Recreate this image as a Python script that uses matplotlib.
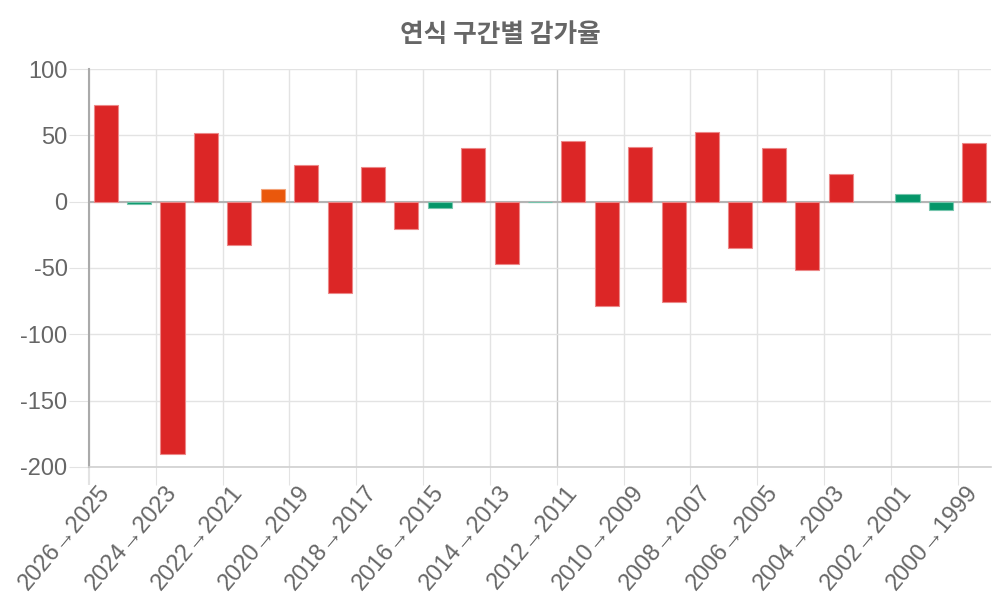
import numpy as np
import matplotlib
matplotlib.use("Agg")
import matplotlib.pyplot as plt
from matplotlib.colors import to_rgb

plt.rcParams['font.family'] = ['Liberation Sans', 'Noto Sans CJK KR', 'DejaVu Sans']
plt.rcParams['axes.unicode_minus'] = False

title = "연식 구간별 감가율"

categories = [
    "2026→2025", "2025→2024", "2024→2023", "2023→2022", "2022→2021", "2021→2020",
    "2020→2019", "2019→2018", "2018→2017", "2017→2016", "2016→2015", "2015→2014",
    "2014→2013", "2013→2012", "2012→2011", "2011→2010", "2010→2009", "2009→2008",
    "2008→2007", "2007→2006", "2006→2005", "2005→2004", "2004→2003", "2003→2002",
    "2002→2001", "2001→2000", "2000→1999",
]

values = [
    72.8, -1.8, -190.5, 51.7, -32.8, 9.9, 28.0, -68.5, 26.3, -20.8, -4.4, 40.8,
    -46.7, -0.5, 45.9, -78.6, 41.4, -75.4, 52.2, -34.9, 40.6, -51.2, 20.8, 0.0,
    5.7, -6.0, 44.2,
]

bar_class = [
    "red", "green", "red", "red", "red", "orange", "red", "red", "red", "red",
    "green", "red", "red", "green", "red", "red", "red", "red", "red", "red",
    "red", "red", "red", "green", "green", "green", "red",
]

palette = {"red": "#dc2626", "green": "#059669", "orange": "#ea580c"}

yticks = [-200, -150, -100, -50, 0, 50, 100]
ytick_labels = ["-200", "-150", "-100", "-50", "0", "50", "100"]


def lighten(c, f):
    r, g, b = to_rgb(c)
    return (r + (1 - r) * f, g + (1 - g) * f, b + (1 - b) * f)


fills = [palette[c] for c in bar_class]
edges = [lighten(palette[c], 0.45) for c in bar_class]
edge_w = [0.0 if v == 0 else 0.8 for v in values]

fig = plt.figure(figsize=(10, 6), dpi=100)
ax = fig.add_axes([0.089, 1 - 467 / 600, (991 - 89) / 1000, (467 - 69) / 600])

x = np.arange(len(categories))
ax.bar(x, values, width=0.72, color=fills, edgecolor=edges, linewidth=edge_w, zorder=3)

ax.set_xlim(-0.5, len(categories) - 0.5)
ax.set_ylim(-200, 100)

grid_c = "#e3e3e3"
# y axis
ax.set_yticks(yticks)
ax.set_yticklabels(ytick_labels)
ax.tick_params(axis='y', length=14.4, width=0.8, color=grid_c, pad=1,
               labelsize=17, labelcolor='#666666')
ax.yaxis.grid(True, color=grid_c, lw=1.0, zorder=0)

# x axis
ax.set_xticks(x[::2])
ax.set_xticklabels(categories[::2])
ax.set_xticks(np.arange(-0.5, len(categories) - 1, 2), minor=True)
ax.tick_params(axis='x', which='major', length=0, pad=15.5, labelsize=17,
               labelcolor='#666666')
ax.tick_params(axis='x', which='minor', length=13, width=0.8, color=grid_c)
ax.xaxis.grid(True, which='minor', color=grid_c, lw=1.0, zorder=0)
ax.xaxis.grid(False, which='major')
for lbl in ax.get_xticklabels():
    lbl.set_rotation(50)
    lbl.set_ha('right')
    lbl.set_va('center')
    lbl.set_rotation_mode('anchor')

ax.axhline(0, color='#b4b4b4', lw=1.5, zorder=2)

for s in ['top', 'right']:
    ax.spines[s].set_visible(False)
ax.spines['left'].set_color('#aaaaaa')
ax.spines['left'].set_linewidth(1.5)
ax.spines['bottom'].set_color('#d0d0d0')
ax.spines['bottom'].set_linewidth(1.2)

minor = ax.xaxis.get_minor_ticks()
minor[0].tick1line.set_color('#aaaaaa')
minor[0].tick1line.set_markeredgewidth(1.5)
minor[7].tick1line.set_color('#c6c6c6')
minor[7].gridline.set_color('#c6c6c6')
ymaj = ax.yaxis.get_major_ticks()
ymaj[4].tick1line.set_color('#b4b4b4')

fig.text(0.5, 1 - 34 / 600, title, ha='center', va='center', fontsize=18.5,
         fontweight='bold', color='#666666',
         family=['Noto Sans CJK KR', 'DejaVu Sans'])

fig.savefig("out.png", dpi=100)
